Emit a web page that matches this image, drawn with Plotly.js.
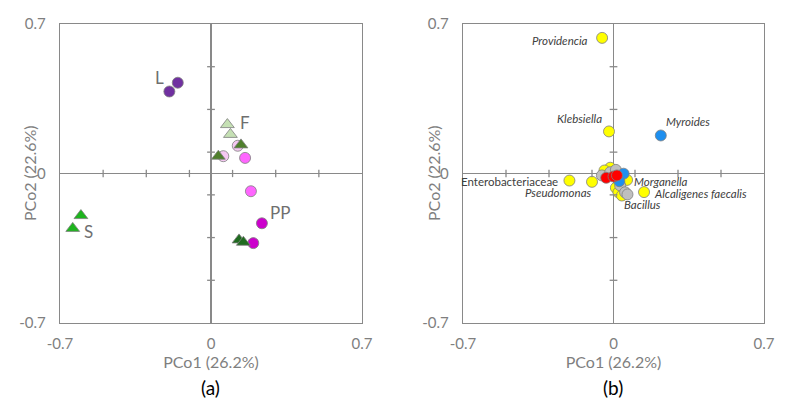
<!DOCTYPE html>
<html>
<head>
<meta charset="utf-8">
<script src="https://cdn.plot.ly/plotly-3.0.1.min.js"></script>
<style>
  html, body { margin: 0; padding: 0; background: #fff; }
  #chart { width: 790px; height: 404px; }
</style>
</head>
<body>
<div id="chart"></div>
<script>
// Panel (a) - samples
const lX = [-0.154, -0.193];
const lY = [0.425, 0.384];
const fX = [0.076, 0.090];
const fY = [0.229, 0.183];
const lilacX = [0.124, 0.057];
const lilacY = [0.130, 0.081];
const oliveX = [0.139, 0.034];
const oliveY = [0.134, 0.081];
const pinkX = [0.158, 0.185];
const pinkY = [0.073, -0.083];
const magentaX = [0.236, 0.196];
const magentaY = [-0.233, -0.326];
const darkX = [0.130, 0.150];
const darkY = [-0.311, -0.322];
const sX = [-0.603, -0.641];
const sY = [-0.197, -0.257];

// group labels in (a)
const groupNames = ['L', 'F', 'PP', 'S'];
const groupX = [-0.24, 0.158, 0.32, -0.569];
const groupY = [0.448, 0.240, -0.184, -0.27];

// Panel (b) - taxa
const yellowX = [-0.053, -0.021, -0.205, -0.100, 0.063, 0.142, -0.015, -0.042, 0.011, 0.023, 0.039];
const yellowY = [0.635, 0.197, -0.033, -0.039, -0.030, -0.087, 0.027, 0.014, -0.067, -0.088, -0.103];
const greyX = [-0.054, -0.015, 0.011, 0.031, 0.054, 0.065];
const greyY = [-0.009, 0.006, 0.017, -0.056, -0.088, -0.098];
const blueX = [0.220, 0.047, 0.027];
const blueY = [0.178, -0.001, -0.036];
const redX = [-0.034, 0.000, 0.016];
const redY = [-0.020, -0.014, -0.009];

// taxon names, which series/point they belong to
const taxa = ['Providencia', 'Klebsiella', 'Myroides', 'Enterobacteriaceae', 'Pseudomonas', 'Morganella', 'Alcaligenes faecalis', 'Bacillus'];
const taxaSeries = ['yellow', 'yellow', 'blue', 'yellow', 'yellow', 'yellow', 'yellow', 'grey'];
const taxaIndex = [0, 1, 0, 2, 3, 4, 5, 5];

const crossTicks = [-0.5, -0.3, -0.1, 0.1, 0.3, 0.5];
const range = [-0.7, 0.7];
const axisGrey = '#898989';
const textGrey = '#7f7f7f';
const FONT = 'Lato, "Open Sans", sans-serif';

function pts(x, y, xa, ya, symbol, color, size) {
  return {
    type: 'scatter', mode: 'markers', x: x, y: y,
    xaxis: xa, yaxis: ya, showlegend: false, hoverinfo: 'x+y',
    marker: { symbol: symbol, color: color, size: size,
              line: { color: '#7f7f7f', width: 0.8 } }
  };
}

const traces = [
  pts(lX, lY, 'x', 'y', 'circle', '#7030a0', 11),
  pts(fX, fY, 'x', 'y', 'triangle-up', '#c5e0b4', 12),
  pts(lilacX, lilacY, 'x', 'y', 'circle', '#f5c8f2', 11),
  pts(oliveX, oliveY, 'x', 'y', 'triangle-up', '#4f7f2c', 12),
  pts(pinkX, pinkY, 'x', 'y', 'circle', '#ff66ff', 11),
  pts(magentaX, magentaY, 'x', 'y', 'circle', '#cc00cc', 11),
  pts(darkX, darkY, 'x', 'y', 'triangle-up', '#1f6b1f', 12),
  pts(sX, sY, 'x', 'y', 'triangle-up', '#1eb41e', 12),

  pts(yellowX, yellowY, 'x2', 'y2', 'circle', '#ffff00', 11),
  pts(greyX, greyY, 'x2', 'y2', 'circle', '#bfbfbf', 11),
  pts(blueX, blueY, 'x2', 'y2', 'circle', '#1e8fef', 11),
  pts(redX, redY, 'x2', 'y2', 'circle', '#ff0000', 11)
];

// small crossing tick marks on the zero lines
const shapes = [];
[['x', 'y'], ['x2', 'y2']].forEach(([xa, ya]) => {
  crossTicks.forEach(t => {
    shapes.push({ type: 'line', xref: xa, yref: ya, x0: t, x1: t, y0: -0.017, y1: 0.017,
                  line: { color: axisGrey, width: 1.3 } });
    shapes.push({ type: 'line', xref: xa, yref: ya, x0: -0.018, x1: 0.018, y0: t, y1: t,
                  line: { color: axisGrey, width: 1.3 } });
  });
});

const annotations = [];
groupNames.forEach((g, i) => {
  annotations.push({ xref: 'x', yref: 'y', x: groupX[i], y: groupY[i], text: g,
                     showarrow: false, font: { family: FONT, size: 17, color: '#6f6f6f' } });
});

const seriesXY = { yellow: [yellowX, yellowY], grey: [greyX, greyY], blue: [blueX, blueY] };
// placement of each taxon label relative to its point
const labelAnchor = ['right', 'right', 'left', 'right', 'right', 'left', 'left', 'left'];
const labelDx = [-12, -5, 3, -9, 2, 5, 8, -5];
const labelDy = [-3, 13, 14, -1, -11, -1.5, -1, -10.5];
taxa.forEach((name, i) => {
  const s = seriesXY[taxaSeries[i]];
  const k = taxaIndex[i];
  annotations.push({
    xref: 'x2', yref: 'y2', x: s[0][k], y: s[1][k],
    text: name === 'Enterobacteriaceae' ? name : '<i>' + name + '</i>',
    showarrow: false, xanchor: labelAnchor[i], yanchor: 'middle',
    xshift: labelDx[i], yshift: labelDy[i],
    font: { family: FONT, size: 11.5, color: '#404040' }
  });
});

// y axis titles and panel captions
[[21, 'PCo2 (22.6%)'], [425, 'PCo2 (22.6%)']].forEach(([px, txt]) => {
  annotations.push({ xref: 'paper', yref: 'paper', x: px / 790, y: 1 - 173 / 404, text: txt,
                     textangle: -90, showarrow: false, xanchor: 'center', yanchor: 'middle',
                     xshift: 9,
                     font: { family: FONT, size: 16, color: textGrey } });
});
[[211, '(a)'], [613, '(b)']].forEach(([px, txt]) => {
  annotations.push({ xref: 'paper', yref: 'paper', x: px / 790, y: 1 - 387 / 404, text: txt,
                     showarrow: false, xanchor: 'center', yanchor: 'middle',
                     font: { family: FONT, size: 19, color: '#000' } });
});

function xAxis(domain, ya) {
  return {
    domain: domain, range: range, anchor: ya,
    tickvals: [-0.7, 0, 0.7], ticktext: ['-0.7', '0', '0.7'],
    showgrid: false, zeroline: true, zerolinecolor: axisGrey, zerolinewidth: 1.3,
    showline: true, mirror: true, linecolor: axisGrey, linewidth: 1.3,
    ticks: '', ticklabelstandoff: 7,
    tickfont: { family: FONT, size: 15, color: textGrey },
    title: { text: 'PCo1 (26.2%)', standoff: 1, font: { family: FONT, size: 16, color: textGrey } }
  };
}

function yAxis(xa) {
  return {
    domain: [1 - 323 / 404, 1 - 24 / 404], range: range, anchor: xa,
    tickvals: [-0.7, 0, 0.7], ticktext: ['-0.7', '0', '0.7'],
    showgrid: false, zeroline: true, zerolinecolor: axisGrey, zerolinewidth: 1.3,
    showline: true, mirror: true, linecolor: axisGrey, linewidth: 1.3,
    ticks: '', ticklabelstandoff: 10,
    tickfont: { family: FONT, size: 15, color: textGrey }
  };
}

const layout = {
  width: 790, height: 404,
  margin: { l: 0, r: 0, t: 0, b: 0 },
  paper_bgcolor: '#fff', plot_bgcolor: '#fff',
  xaxis: xAxis([60 / 790, 362 / 790], 'y'),
  yaxis: yAxis('x'),
  xaxis2: xAxis([463 / 790, 764 / 790], 'y2'),
  yaxis2: yAxis('x2'),
  shapes: shapes,
  annotations: annotations
};

Plotly.newPlot('chart', traces, layout, { displayModeBar: false, staticPlot: true });
</script>
</body>
</html>
